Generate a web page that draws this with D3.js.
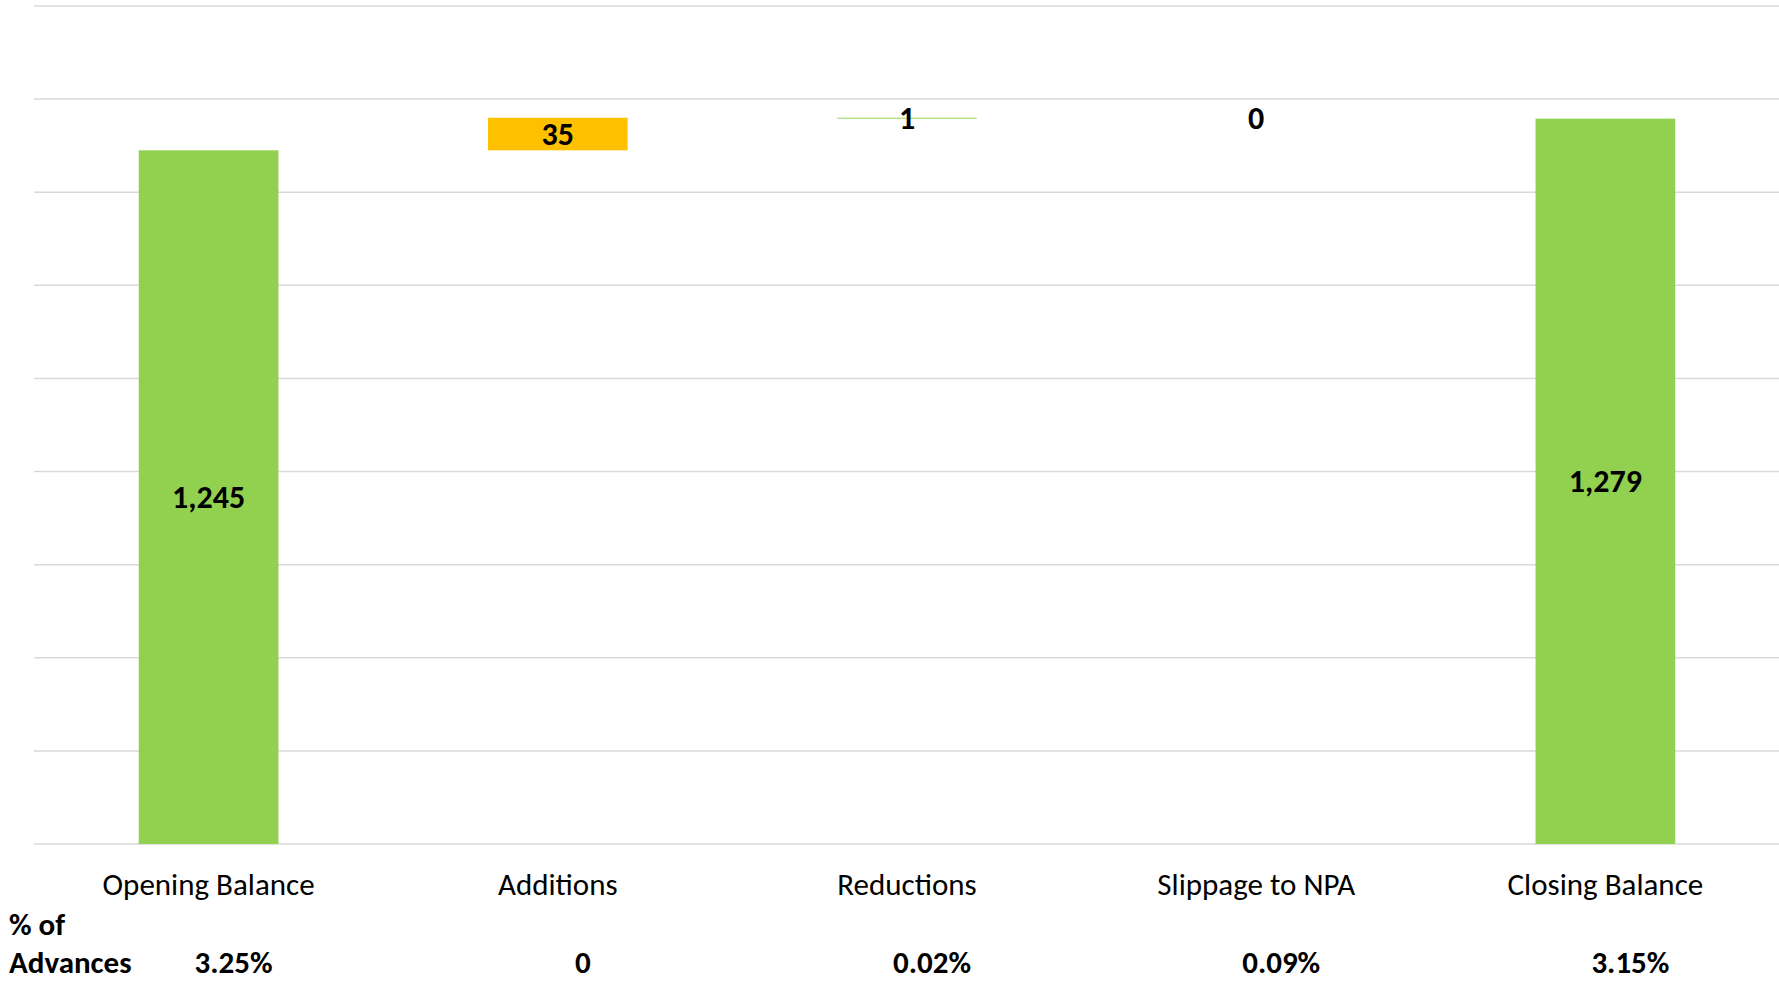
<!DOCTYPE html>
<html>
<head>
    <title>NPA Movement Waterfall</title>
    <script src="https://d3js.org/d3.v7.min.js"></script>
    <style>
        body { margin: 0; background: #fff; }
        text { font-family: Carlito, Lato, sans-serif; fill: #000; }
    </style>
</head>
<body>
    <div id="chart"></div>
    <script>
        // chart data
        const categories = ["Opening Balance", "Additions", "Reductions", "Slippage to NPA", "Closing Balance"];
        const values = [1245, 35, -1, 0, 1279];
        const kinds = ["total", "change", "change", "change", "total"];
        const barColors = ["#92D050", "#FFC000", "#92D050", "#FFC000", "#92D050"];
        const pctOfAdvances = ["3.25%", "0", "0.02%", "0.09%", "3.15%"];
        const yDomain = [500, 1400];

        const width = 1779, height = 983;
        const margin = { top: 6, right: -1, bottom: 139, left: 34 };

        // running totals for the waterfall
        let running = 0;
        const steps = categories.map((c, i) => {
            let start, end;
            if (kinds[i] === "total") {
                start = 0; end = values[i]; running = values[i];
            } else {
                start = running; end = running + values[i]; running = end;
            }
            return { cat: c, value: values[i], start, end, color: barColors[i], pct: pctOfAdvances[i] };
        });

        const x = d3.scaleBand()
            .domain(categories)
            .range([margin.left, width - margin.right])
            .paddingInner(0.6)
            .paddingOuter(0.3);

        const y = d3.scaleLinear()
            .domain(yDomain)
            .range([height - margin.bottom, margin.top]);

        const svg = d3.select("#chart")
            .append("svg")
            .attr("width", width)
            .attr("height", height);

        // gridlines
        svg.append("g")
            .selectAll("line")
            .data(y.ticks(9))
            .join("line")
            .attr("x1", margin.left)
            .attr("x2", width)
            .attr("y1", d => y(d))
            .attr("y2", d => y(d))
            .attr("stroke", "#d9d9d9")
            .attr("stroke-width", 1.5);

        const clampY = v => y(Math.max(yDomain[0], v));

        // bars
        svg.append("g")
            .selectAll("rect")
            .data(steps)
            .join("rect")
            .attr("x", d => x(d.cat))
            .attr("width", x.bandwidth())
            .attr("y", d => clampY(Math.max(d.start, d.end)))
            .attr("height", d => clampY(Math.min(d.start, d.end)) - clampY(Math.max(d.start, d.end)))
            .attr("fill", d => d.color);

        // value labels, centred in each bar
        const fmt = d3.format(",");
        svg.append("g")
            .selectAll("text")
            .data(steps)
            .join("text")
            .attr("x", d => x(d.cat) + x.bandwidth() / 2)
            .attr("y", d => (clampY(d.start) + clampY(d.end)) / 2)
            .attr("text-anchor", "middle")
            .attr("dominant-baseline", "central")
            .style("font-size", "32px")
            .style("font-weight", "bold")
            .text(d => fmt(Math.abs(d.value)));

        // category axis labels
        const labelY = height - margin.bottom + 40;
        svg.append("g")
            .selectAll("text")
            .data(categories)
            .join("text")
            .attr("x", d => x(d) + x.bandwidth() / 2)
            .attr("y", labelY)
            .attr("text-anchor", "middle")
            .attr("dominant-baseline", "central")
            .style("font-size", "31px")
            .text(d => d);

        // % of advances row
        const pctY = height - 21;
        const pctShift = 25;
        svg.append("text")
            .attr("x", 9)
            .attr("y", pctY - 38)
            .attr("dominant-baseline", "central")
            .style("font-size", "31px")
            .style("font-weight", "bold")
            .text("% of");
        svg.append("text")
            .attr("x", 9)
            .attr("y", pctY)
            .attr("dominant-baseline", "central")
            .style("font-size", "31px")
            .style("font-weight", "bold")
            .text("Advances");

        svg.append("g")
            .selectAll("text")
            .data(steps)
            .join("text")
            .attr("x", d => x(d.cat) + x.bandwidth() / 2 + pctShift)
            .attr("y", pctY)
            .attr("text-anchor", "middle")
            .attr("dominant-baseline", "central")
            .style("font-size", "31px")
            .style("font-weight", "bold")
            .text(d => d.pct);
    </script>
</body>
</html>
